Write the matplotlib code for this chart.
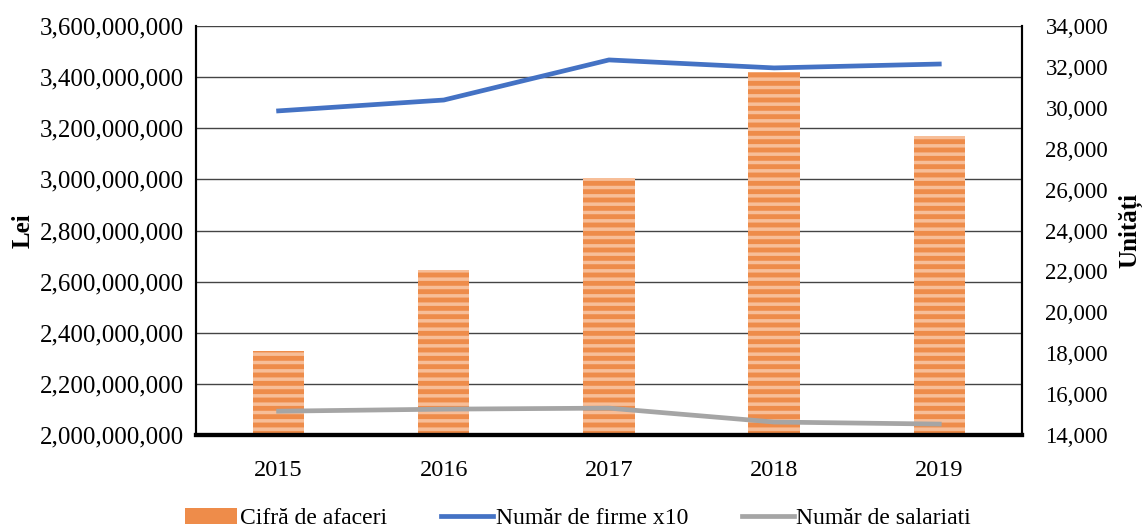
import matplotlib
matplotlib.use("Agg")
import matplotlib.pyplot as plt
from matplotlib.ticker import FuncFormatter
from matplotlib.patches import Patch
from matplotlib.lines import Line2D

years = ["2015", "2016", "2017", "2018", "2019"]
cifra_afaceri = [2.329e9, 2.646e9, 3.006e9, 3.420e9, 3.170e9]
numar_firme_x10 = [29850, 30380, 32340, 31950, 32140]
numar_salariati = [15170, 15270, 15320, 14640, 14540]

plt.rcParams['font.family'] = ['Liberation Serif', 'DejaVu Serif']

fig = plt.figure(figsize=(11.43, 5.30), dpi=100)
ax = fig.add_axes([0.1715, 0.179, 0.7225, 0.772])
ax2 = ax.twinx()

x = list(range(len(years)))
orange = '#EE8C4A'
ax.bar(x, [v - 2e9 for v in cifra_afaceri], bottom=2e9, width=0.31,
       color=orange, edgecolor='none', zorder=2)
plt.rcParams['hatch.linewidth'] = 2.5
ax.bar(x, [v - 2e9 for v in cifra_afaceri], bottom=2e9, width=0.31,
       fill=False, hatch='--', edgecolor='#F7BE98', linewidth=0, zorder=3)

ax.set_ylim(2e9, 3.6e9)
ax.set_yticks([2e9 + i * 2e8 for i in range(9)])
ax.yaxis.set_major_formatter(FuncFormatter(lambda v, p: f"{v:,.0f}"))
ax.set_xlim(-0.5, 4.5)
ax.set_xticks(x)
ax.set_xticklabels(years)
ax.grid(axis='y', color='#444444', linewidth=1.0, zorder=0)
ax.set_axisbelow(True)

ax2.plot(x, numar_firme_x10, color='#4472C4', linewidth=3.4, zorder=4)
ax2.plot(x, numar_salariati, color='#A5A5A5', linewidth=3.4, zorder=4)
ax2.set_ylim(14000, 34000)
ax2.set_yticks([14000 + i * 2000 for i in range(11)])
ax2.yaxis.set_major_formatter(FuncFormatter(lambda v, p: f"{v:,.0f}"))

for a in (ax, ax2):
    a.spines['top'].set_visible(False)
    a.spines['left'].set_linewidth(1.5)
    a.spines['right'].set_linewidth(1.5)
    a.spines['bottom'].set_linewidth(3)
    a.tick_params(axis='both', length=0, labelsize=17.5, pad=9)
ax.tick_params(axis='y', labelsize=18, pad=9)
ax.tick_params(axis='x', pad=18)
ax2.tick_params(axis='y', labelsize=16.5, pad=17)

ax.set_ylabel("Lei", fontsize=18, fontweight='bold')
ax.yaxis.set_label_coords(-0.195, 0.5)
ax2.set_ylabel("Unități", fontsize=18, fontweight='bold')
ax2.yaxis.set_label_coords(1.117, 0.5)

handles = [Patch(facecolor=orange, edgecolor='none'),
           Line2D([], [], color='#4472C4', linewidth=3.4),
           Line2D([], [], color='#A5A5A5', linewidth=3.4)]
labels = ["Cifră de afaceri", "Număr de firme x10", "Număr de salariati"]
fig.legend(handles, labels, loc='center', bbox_to_anchor=(0.506, 0.022), ncol=3,
           frameon=False, fontsize=17, handlelength=2.2, handletextpad=0.1,
           columnspacing=2.3)

fig.savefig("out.png", dpi=100)
